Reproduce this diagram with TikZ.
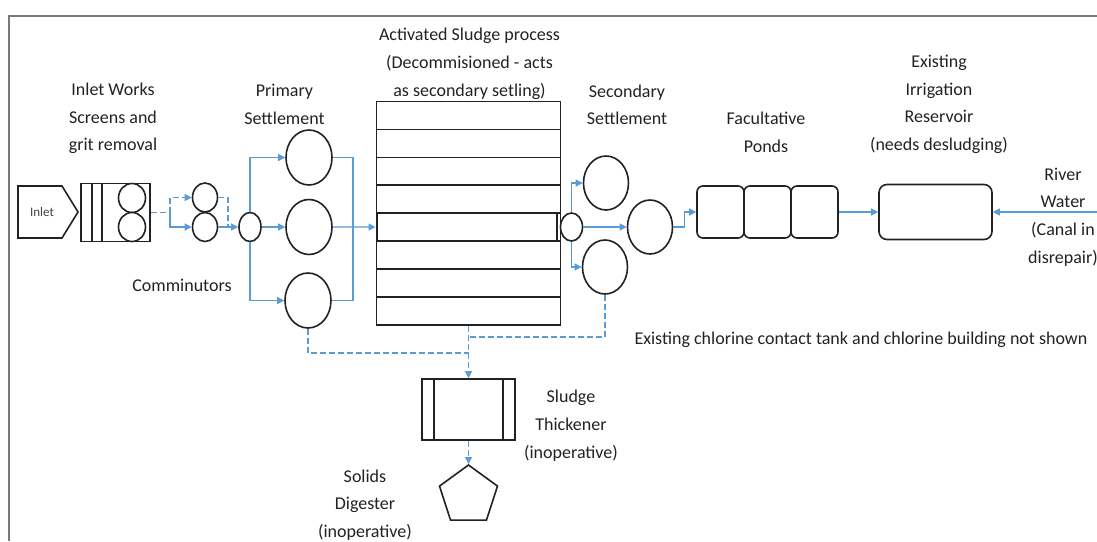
\documentclass[tikz,border=0pt]{standalone}
\usepackage{fontspec}
\setmainfont{Carlito}
\usetikzlibrary{arrows.meta,shapes.geometric}
\definecolor{ink}{HTML}{222222}
\definecolor{flowblue}{HTML}{5B9BD5}
\definecolor{framegray}{HTML}{7A7A7A}
\begin{document}
\begin{tikzpicture}[x=1pt,y=-1pt,
  unit/.style={draw=ink,line width=1.6pt,fill=white,inner sep=0pt},
  tank/.style={unit,ellipse,minimum width=46pt,minimum height=54pt},
  splitter/.style={unit,ellipse,minimum width=22pt,minimum height=29pt},
  pond/.style={unit,rectangle,rounded corners=6pt,minimum width=47pt,minimum height=52pt},
  flow/.style={draw=flowblue,line width=1.2pt},
  feed/.style={flow,-{Triangle[length=7pt,width=7pt]}},
  sludge/.style={flow,dash pattern=on 6pt off 3pt},
  sludgefeed/.style={sludge,-{Triangle[length=7pt,width=7pt]}},
  lbl/.style={font=\fontsize{18}{27.8}\selectfont,text=ink,align=center,inner sep=0pt},
]
\useasboundingbox (0,0) rectangle (1097,541);
\draw[framegray,line width=2.4pt] (9,541) -- (9,16) -- (1097,16);

% inlet
\draw[unit] (18,186) -- (62,186) -- (78,212) -- (62,238) -- (18,238) -- cycle;
\node[font=\fontsize{13}{15}\selectfont,text=ink!85,inner sep=0pt] (inlettxt) at (42,212) {Inlet};

% inlet works
\node[unit,rectangle,minimum width=69pt,minimum height=58pt] (iw) at (115.5,212.5) {};
\draw[ink,line width=1.6pt] (92,183.5) -- (92,241.5) (102,183.5) -- (102,241.5);
\node[unit,ellipse,minimum width=27pt,minimum height=29pt] (sc1) at (132,198) {};
\node[unit,ellipse,minimum width=27pt,minimum height=29pt] (sc2) at (132,227) {};

% comminutors
\node[unit,ellipse,minimum width=25pt,minimum height=29pt] (c1) at (205,197.5) {};
\node[unit,ellipse,minimum width=25pt,minimum height=29pt] (c2) at (205,227) {};
\node[splitter] (d1) at (250,227) {};

% primary settlement
\node[tank,minimum height=55pt] (p1) at (309,157.5) {};
\node[tank,minimum height=55pt] (p2) at (309,227) {};
\node[tank,minimum height=55pt] (p3) at (308,300.5) {};

% activated sludge
\node[unit,rectangle,minimum width=184pt,minimum height=223.2pt] (as) at (468.5,213.1) {};
\foreach \k in {1,...,7} \draw[ink,line width=1.6pt] (376.5,{101.5+27.9*\k}) -- (560.5,{101.5+27.9*\k});
\node[unit,rectangle,minimum width=180pt,minimum height=27.9pt,line width=2pt] (asrow) at (466.5,227.05) {};
\node[splitter,minimum height=28pt] (d2) at (571.5,227) {};

% secondary settlement
\node[tank,minimum width=45pt] (s1) at (606,183) {};
\node[tank,minimum width=45pt] (s2) at (650,227) {};
\node[tank,minimum width=45pt] (s3) at (605,267) {};

% ponds and reservoir
\node[pond] (pd1) at (720.5,212) {};
\node[pond] (pd2) at (767.5,212) {};
\node[pond] (pd3) at (814.5,212) {};
\node[unit,rectangle,rounded corners=8pt,minimum width=113pt,minimum height=55pt] (res) at (935.5,212) {};

% sludge treatment
\node[unit,rectangle,minimum width=93pt,minimum height=61pt] (th) at (468.5,409.5) {};
\draw[ink,line width=1.6pt] (434,379) -- (434,440) (503,379) -- (503,440);
\node[unit,regular polygon,regular polygon sides=5,minimum size=61pt] (pent) at (468.5,495.5) {};

% flows
\coordinate (sp) at (170,212.5);
\draw[sludge] (iw.east) -- (sp);
\draw[sludgefeed] (sp) |- (c1.west);
\draw[feed] (sp) |- (c2.west);
\coordinate (j1) at (228,227);
\draw[sludge] (c1.east) -| (j1);
\draw[feed] (c2.east) -- (d1.west);

\draw[feed] (d1.north) |- (p1.west);
\draw[feed] (d1.east) -- (p2.west);
\draw[feed] (d1.south) |- (p3.west);
\coordinate (col) at (353,227);
\draw[flow] (p1.east) -| (col);
\draw[flow] (p3.east) -| (col);
\draw[feed] (p2.east) -- (asrow.west);

\draw[feed] (d2.north) |- (s1.west);
\draw[feed] (d2.east) -- (s2.west);
\draw[feed] (d2.south) |- (s3.west);
\draw[feed] (s2.east) -- ++(11,0) |- (pd1.west);
\draw[feed] (pd3.east) -- (res.west);
\coordinate (river) at (1097,212);
\draw[feed] (river) -- (res.east);

% sludge lines
\coordinate (sl1) at (468.5,353);
\coordinate (sl2) at (468.5,337);
\draw[sludge] (p3.south) |- (sl1);
\draw[sludge] (s3.south) |- (sl2);
\draw[sludgefeed] (as.south) -- (th.north);
\draw[sludgefeed] (th.south) -- (pent.corner 1);

% labels
\node[lbl] (tIW) at (113,118.4) {Inlet Works\\Screens and\\grit removal};
\node[lbl] (tPS) at (284.5,104.4) {Primary\\Settlement};
\node[lbl] (tAS) at (469.5,64) {Activated Sludge process\\(Decommisioned - acts\\as secondary setling)};
\node[lbl] (tSS) at (627,104.9) {Secondary\\Settlement};
\node[lbl] (tFP) at (766,132.4) {Facultative\\Ponds};
\node[lbl] (tIR) at (939,104.4) {Existing\\Irrigation\\Reservoir\\(needs desludging)};
\node[lbl] (tRW) at (1063,217) {River\\Water\\(Canal in\\disrepair)};
\node[lbl] (tCM) at (182,285) {Comminutors};
\node[lbl] (tCL) at (861,340) {Existing chlorine contact tank and chlorine building not shown};
\node[lbl] (tTH) at (571,425.4) {Sludge\\Thickener\\(inoperative)};
\node[lbl] (tDG) at (365,505) {Solids\\Digester\\(inoperative)};
\end{tikzpicture}
\end{document}
